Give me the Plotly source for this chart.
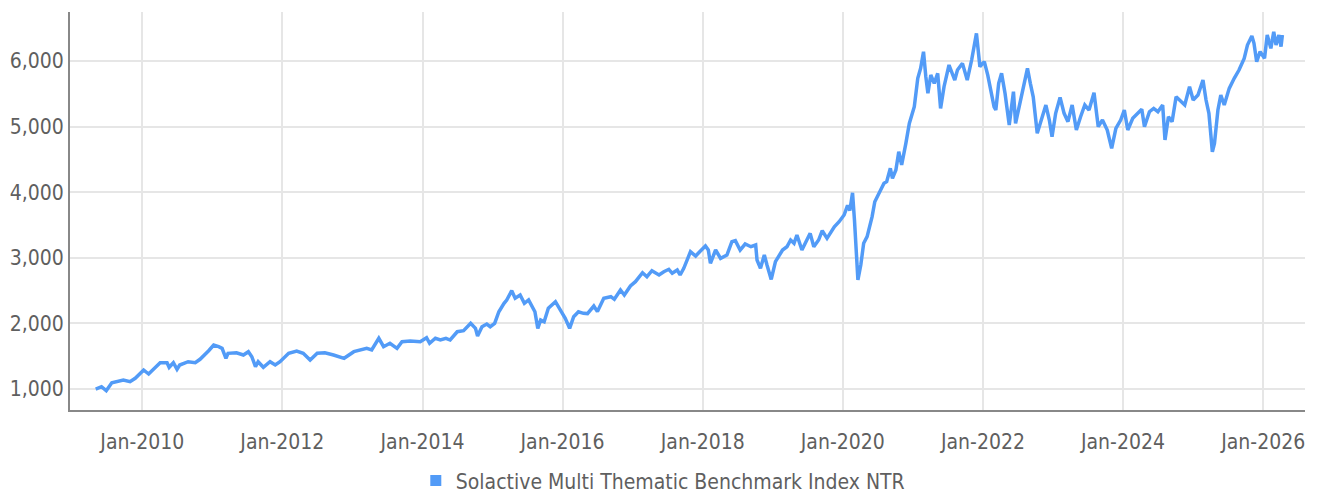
import plotly.graph_objects as go

SERIES_NAME = "Solactive Multi Thematic Benchmark Index NTR"

dates = [
    "2009-05-03", "2009-06-02", "2009-06-27", "2009-07-26", "2009-09-24", "2009-10-29", "2009-11-25",
    "2010-01-08", "2010-02-03", "2010-04-04", "2010-05-10", "2010-05-21", "2010-06-12", "2010-07-01",
    "2010-07-15", "2010-08-28", "2010-10-04", "2010-10-29", "2010-12-13",
    "2011-01-08", "2011-02-03", "2011-02-21", "2011-03-13", "2011-03-24", "2011-05-07", "2011-06-12",
    "2011-07-08", "2011-07-26", "2011-08-14", "2011-08-28", "2011-09-24", "2011-10-29", "2011-11-25",
    "2011-12-20",
    "2012-02-03", "2012-03-16", "2012-04-19", "2012-05-25", "2012-07-01", "2012-08-10", "2012-09-24",
    "2012-11-18",
    "2013-01-08", "2013-03-16", "2013-04-11", "2013-05-18", "2013-06-12", "2013-07-15", "2013-08-21",
    "2013-09-16", "2013-10-29", "2013-12-20",
    "2014-01-22", "2014-02-07", "2014-03-09", "2014-04-04", "2014-05-03", "2014-05-25", "2014-07-01",
    "2014-08-03", "2014-09-09", "2014-10-04", "2014-10-15", "2014-11-07", "2014-12-02", "2014-12-20",
    "2015-01-12", "2015-02-03", "2015-03-02", "2015-03-16", "2015-04-11", "2015-04-29", "2015-05-25",
    "2015-06-16", "2015-07-08", "2015-07-26", "2015-08-10", "2015-08-25", "2015-09-09", "2015-09-27",
    "2015-10-19", "2015-11-25", "2015-12-20",
    "2016-01-15", "2016-02-07", "2016-02-28", "2016-03-24", "2016-04-19", "2016-05-10", "2016-06-12",
    "2016-07-01", "2016-08-03", "2016-09-09", "2016-09-27", "2016-10-29", "2016-11-18", "2016-12-20",
    "2017-01-15", "2017-02-21", "2017-03-16", "2017-04-11", "2017-05-18", "2017-06-12", "2017-07-08",
    "2017-07-26", "2017-08-21", "2017-09-05", "2017-09-24", "2017-10-29", "2017-11-25", "2017-12-16",
    "2018-01-15", "2018-01-30", "2018-02-10", "2018-03-09", "2018-04-04", "2018-05-07", "2018-06-02",
    "2018-06-20", "2018-07-15", "2018-08-10", "2018-09-09", "2018-10-04", "2018-10-11", "2018-10-29",
    "2018-11-18", "2018-12-02", "2018-12-24",
    "2019-01-15", "2019-02-21", "2019-03-16", "2019-04-04", "2019-04-22", "2019-05-07", "2019-06-02",
    "2019-07-01", "2019-07-15", "2019-08-03", "2019-08-28", "2019-09-16", "2019-10-11", "2019-11-18",
    "2019-12-13",
    "2020-01-08", "2020-01-26", "2020-02-07", "2020-02-21", "2020-03-02", "2020-03-13", "2020-03-20",
    "2020-04-04", "2020-04-19", "2020-05-07", "2020-06-02", "2020-06-16", "2020-07-15", "2020-08-03",
    "2020-08-17", "2020-09-05", "2020-09-16", "2020-10-04", "2020-10-19", "2020-11-03", "2020-11-25",
    "2020-12-13",
    "2021-01-08", "2021-01-26", "2021-02-10", "2021-02-25", "2021-03-09", "2021-03-20", "2021-04-04",
    "2021-04-22", "2021-05-10", "2021-05-25", "2021-06-12", "2021-07-08", "2021-08-07", "2021-08-21",
    "2021-09-16", "2021-10-11", "2021-11-03", "2021-11-28", "2021-12-16",
    "2022-01-08", "2022-01-26", "2022-02-14", "2022-02-28", "2022-03-09", "2022-03-24", "2022-04-08",
    "2022-04-26", "2022-05-18", "2022-06-09", "2022-06-20", "2022-07-15", "2022-08-21", "2022-09-05",
    "2022-09-20", "2022-10-11", "2022-11-07", "2022-11-25", "2022-12-13", "2022-12-27",
    "2023-01-15", "2023-02-07", "2023-02-28", "2023-03-20", "2023-04-11", "2023-05-03", "2023-05-25",
    "2023-06-16", "2023-07-08", "2023-08-03", "2023-08-25", "2023-09-16", "2023-10-11", "2023-11-03",
    "2023-11-25", "2023-12-20",
    "2024-01-08", "2024-01-26", "2024-02-21", "2024-03-16", "2024-04-08", "2024-04-22", "2024-05-18",
    "2024-06-09", "2024-07-01", "2024-07-26", "2024-08-07", "2024-08-25", "2024-09-13", "2024-10-04",
    "2024-10-29", "2024-11-18", "2024-12-13",
    "2025-01-01", "2025-01-26", "2025-02-21", "2025-03-09", "2025-03-24", "2025-04-11", "2025-04-22",
    "2025-05-10", "2025-05-25", "2025-06-12", "2025-07-08", "2025-08-03", "2025-08-28", "2025-09-24",
    "2025-10-11", "2025-11-03", "2025-11-14", "2025-11-28", "2025-12-16",
    "2026-01-08", "2026-01-22", "2026-02-10", "2026-02-25", "2026-03-09", "2026-03-24", "2026-04-04",
    "2026-04-11",
]

values = [
    1000, 1035, 975, 1096, 1137, 1111, 1163,
    1290, 1229, 1401, 1401, 1331, 1401, 1300,
    1366, 1416, 1401, 1453, 1584,
    1670, 1645, 1620, 1468, 1544, 1553, 1518,
    1569, 1492, 1340, 1416, 1331, 1416, 1366,
    1416,
    1544, 1579, 1544, 1442, 1544, 1553, 1518,
    1468,
    1569, 1620, 1595, 1773, 1645, 1697, 1620,
    1721, 1732, 1721,
    1782, 1697, 1773, 1747, 1773, 1747, 1873,
    1889, 2001, 1925, 1808, 1950, 1991, 1950,
    2001, 2178, 2306, 2357, 2499, 2383, 2433,
    2306, 2357, 2255, 2178, 1925, 2052, 2026,
    2230, 2331, 2204,
    2077, 1925, 2102, 2178, 2154, 2150, 2265,
    2180, 2383, 2407, 2367, 2509, 2433, 2570,
    2636, 2773, 2712, 2803, 2738, 2788, 2825,
    2764, 2814, 2738, 2840, 3093, 3027, 3093,
    3180, 3119, 2916, 3119, 2992, 3042, 3246,
    3261, 3119, 3210, 3169, 3195, 2966, 2840,
    3042, 2890, 2671,
    2941, 3119, 3169, 3271, 3221, 3347, 3119,
    3297, 3373, 3169, 3271, 3413, 3297, 3474,
    3550,
    3652, 3800, 3720, 3990, 3580, 2966, 2662,
    2890, 3221, 3322, 3627, 3855, 4034, 4136,
    4161, 4364, 4212, 4338, 4617, 4415, 4745,
    5049,
    5303, 5736, 5888, 6142, 5761, 5508, 5786,
    5659, 5812, 5278, 5608, 5939, 5710, 5862,
    5964, 5710, 6015, 6421, 5913,
    5990, 5786, 5532, 5300, 5253, 5659, 5812,
    5508, 5024, 5532, 5049, 5405, 5888, 5659,
    5455, 4898, 5151, 5329, 5100, 4845,
    5202, 5446, 5202, 5075, 5329, 4948, 5151,
    5329, 5253, 5517, 4999, 5100, 4948, 4668,
    4974, 5100,
    5253, 4948, 5126, 5202, 5263, 4999, 5227,
    5278, 5227, 5329, 4796, 5151, 5075, 5455,
    5379, 5329, 5608,
    5405, 5481, 5710, 5405, 5202, 4617, 4745,
    5253, 5481, 5329, 5583, 5736, 5862, 6040,
    6244, 6381, 6270, 5990, 6142,
    6040, 6396, 6193, 6447, 6244, 6396, 6219,
    6396,
]

y_ticks = [1000, 2000, 3000, 4000, 5000, 6000]

LINE_COLOR = "#529BF7"
FONT = "DejaVu Sans Condensed, Liberation Sans Narrow, sans-serif"
TEXT_COLOR = "#5f5f5f"

fig = go.Figure()
fig.add_trace(go.Scatter(
    x=dates, y=values, mode="lines", name=SERIES_NAME,
    line=dict(color=LINE_COLOR, width=3.5), showlegend=False,
))
# legend entry with square swatch
fig.add_trace(go.Scatter(
    x=[None], y=[None], mode="markers", name=SERIES_NAME,
    marker=dict(color=LINE_COLOR, symbol="square", size=11),
))

# The page body has an 8px default margin, so the figure is offset by 8px;
# margins are set so the plot area lands where the reference has it.
fig.update_layout(
    width=1319, height=520,
    margin=dict(l=62, r=22, t=4, b=118),
    paper_bgcolor="white", plot_bgcolor="white",
    font=dict(family=FONT, size=21, color=TEXT_COLOR),
    showlegend=True,
    legend=dict(orientation="h", x=0.48, xanchor="center", y=-0.178, yanchor="middle",
                font=dict(size=21, color=TEXT_COLOR), itemwidth=30,
                bgcolor="rgba(0,0,0,0)"),
    xaxis=dict(
        type="date", range=["2008-12-20", "2026-08-07"],
        tick0="2010-01-01", dtick="M24", tickformat="%b-%Y",
        showgrid=True, gridcolor="#e6e6e6", gridwidth=2,
        showline=True, linecolor="#888888", linewidth=2,
        ticks="outside", ticklen=12, tickcolor="rgba(0,0,0,0)",
        zeroline=False, automargin=False,
    ),
    yaxis=dict(
        range=[680, 6747], tickvals=y_ticks, tickformat=",d",
        showgrid=True, gridcolor="#e6e6e6", gridwidth=2,
        showline=True, linecolor="#888888", linewidth=2,
        ticks="",
        zeroline=False, automargin=False,
    ),
)

fig.write_html("out.html")
